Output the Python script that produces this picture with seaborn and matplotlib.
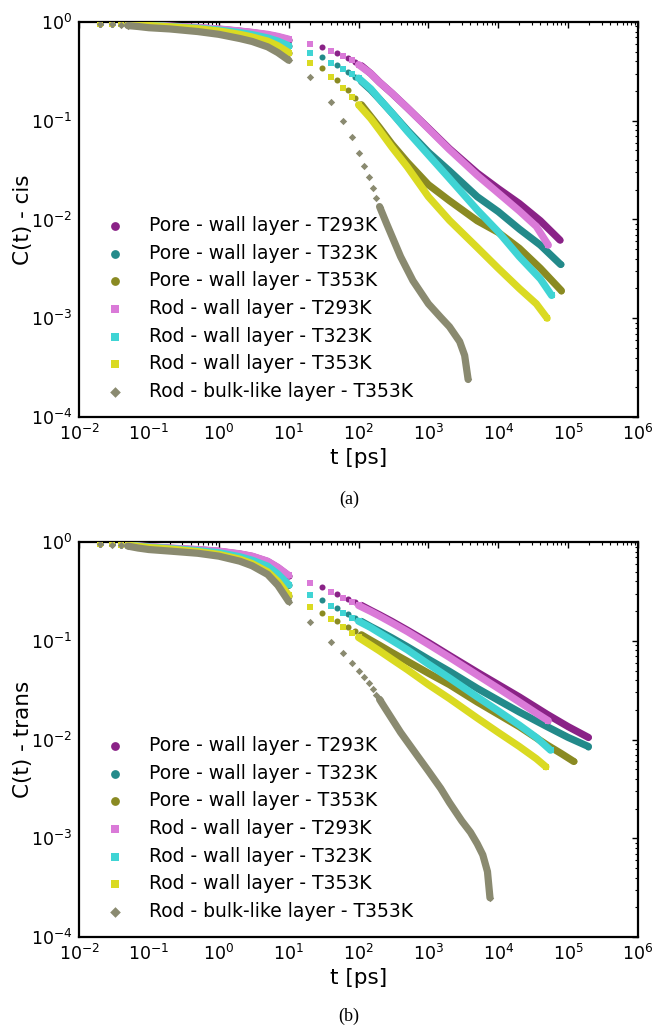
import numpy as np
import pandas as pd
import matplotlib
matplotlib.use("Agg")
import matplotlib.pyplot as plt
from matplotlib.ticker import LogLocator, NullFormatter, FixedLocator, LogFormatterSciNotation
import seaborn as sns

# ---------------------------------------------------------------- series
labels = [
    "Pore - wall layer - T293K",
    "Pore - wall layer - T323K",
    "Pore - wall layer - T353K",
    "Rod - wall layer - T293K",
    "Rod - wall layer - T323K",
    "Rod - wall layer - T353K",
    "Rod - bulk-like layer - T353K",
]
colors = ["#8a2287", "#238a8a", "#8a8a22", "#da7ad8", "#3fd4d4", "#dada22", "#8a8a70"]
markers = ["o", "o", "o", "s", "s", "s", "D"]

# short-time block (0.02 - 10 ps), shared time grid
t_early = [0.02, 0.03, 0.04, 0.05, 0.07, 0.1, 0.2, 0.5, 1, 2, 3, 5, 7, 10]

# decades that carry tick labels
x_decades = [-2, -1, 0, 1, 2, 3, 4, 5, 6]
y_decades = [-4, -3, -2, -1, 0]

# ---------------------------------------------------------------- cis
cis_early_pore293 = [0.965, 0.955, 0.95, 0.945, 0.935, 0.925, 0.905, 0.875, 0.845, 0.805, 0.78, 0.74, 0.705, 0.66]
cis_early_pore323 = [0.962, 0.952, 0.946, 0.94, 0.93, 0.92, 0.895, 0.86, 0.825, 0.775, 0.74, 0.685, 0.635, 0.57]
cis_early_pore353 = [0.96, 0.95, 0.943, 0.937, 0.926, 0.915, 0.89, 0.85, 0.805, 0.745, 0.70, 0.635, 0.57, 0.485]
cis_early_rod293 = [0.97, 0.96, 0.955, 0.95, 0.94, 0.93, 0.91, 0.88, 0.85, 0.81, 0.785, 0.75, 0.715, 0.67]
cis_early_rod323 = [0.967, 0.957, 0.951, 0.945, 0.935, 0.925, 0.90, 0.865, 0.83, 0.78, 0.745, 0.69, 0.64, 0.575]
cis_early_rod353 = [0.965, 0.955, 0.948, 0.942, 0.931, 0.92, 0.895, 0.855, 0.81, 0.75, 0.705, 0.64, 0.575, 0.49]
cis_early_bulk353 = [0.96, 0.945, 0.93, 0.92, 0.90, 0.875, 0.85, 0.80, 0.75, 0.68, 0.635, 0.56, 0.49, 0.41]

cis_t_pore293 = [30, 50, 70, 90, 110, 150, 200, 300, 500, 1e3, 2e3, 5e3, 1e4, 2e4, 4e4, 7.6e4]
cis_c_pore293 = [0.562, 0.49, 0.435, 0.395, 0.36, 0.30, 0.245, 0.19, 0.135, 0.084, 0.052, 0.0295, 0.0205, 0.0145, 0.0097, 0.0062]
cis_t_pore323 = [30, 50, 70, 90, 110, 150, 200, 300, 500, 1e3, 2e3, 5e3, 1e4, 2e4, 4e4, 7.8e4]
cis_c_pore323 = [0.446, 0.367, 0.315, 0.28, 0.25, 0.205, 0.165, 0.12, 0.08, 0.048, 0.031, 0.017, 0.012, 0.008, 0.0055, 0.0035]
cis_t_pore353 = [30, 50, 70, 90, 110, 150, 200, 300, 500, 1e3, 2e3, 5e3, 1e4, 2e4, 4e4, 8e4]
cis_c_pore353 = [0.34, 0.259, 0.205, 0.17, 0.145, 0.11, 0.085, 0.058, 0.038, 0.0225, 0.0155, 0.0097, 0.0074, 0.0051, 0.0032, 0.0019]
cis_t_rod293 = [20, 40, 60, 80, 100, 150, 200, 300, 500, 1e3, 2e3, 5e3, 1e4, 2e4, 3.5e4, 5.2e4]
cis_c_rod293 = [0.594, 0.508, 0.456, 0.41, 0.37, 0.30, 0.245, 0.19, 0.135, 0.083, 0.051, 0.028, 0.0185, 0.0122, 0.0085, 0.0055]
cis_t_rod323 = [20, 40, 60, 80, 100, 150, 200, 300, 500, 1e3, 2e3, 5e3, 1e4, 2e4, 4e4, 5.8e4]
cis_c_rod323 = [0.489, 0.387, 0.332, 0.30, 0.27, 0.21, 0.165, 0.12, 0.078, 0.045, 0.026, 0.0125, 0.0075, 0.0042, 0.0025, 0.0017]
cis_t_rod353 = [20, 40, 60, 80, 100, 150, 200, 300, 500, 1e3, 2e3, 5e3, 1e4, 2e4, 3.5e4, 5e4]
cis_c_rod353 = [0.387, 0.279, 0.213, 0.175, 0.145, 0.105, 0.08, 0.054, 0.034, 0.017, 0.0098, 0.0052, 0.0032, 0.002, 0.0014, 0.001]
cis_t_bulk353 = [20, 40, 60, 80, 100, 120, 140, 160, 180, 200, 250, 400, 600, 1000, 1500, 2000, 2800, 3300, 3700]
cis_c_bulk353 = [0.275, 0.156, 0.100, 0.068, 0.0475, 0.035, 0.0267, 0.0207, 0.0164, 0.0135, 0.0092, 0.0042,
                 0.0024, 0.0014, 0.00102, 0.00082, 0.00058, 0.00042, 0.00024]

# ---------------------------------------------------------------- trans
trans_early_pore293 = [0.96, 0.95, 0.94, 0.93, 0.91, 0.895, 0.865, 0.835, 0.805, 0.755, 0.715, 0.635, 0.55, 0.455]
trans_early_pore323 = [0.958, 0.947, 0.937, 0.927, 0.905, 0.885, 0.855, 0.815, 0.775, 0.705, 0.65, 0.565, 0.47, 0.365]
trans_early_pore353 = [0.955, 0.945, 0.934, 0.924, 0.90, 0.875, 0.845, 0.795, 0.745, 0.665, 0.60, 0.495, 0.395, 0.285]
trans_early_rod293 = [0.965, 0.955, 0.945, 0.935, 0.915, 0.90, 0.87, 0.84, 0.81, 0.76, 0.72, 0.64, 0.555, 0.46]
trans_early_rod323 = [0.963, 0.952, 0.942, 0.932, 0.91, 0.89, 0.86, 0.82, 0.78, 0.71, 0.655, 0.57, 0.475, 0.37]
trans_early_rod353 = [0.96, 0.95, 0.939, 0.929, 0.905, 0.88, 0.85, 0.80, 0.75, 0.67, 0.605, 0.50, 0.40, 0.29]
trans_early_bulk353 = [0.955, 0.94, 0.925, 0.91, 0.87, 0.84, 0.81, 0.77, 0.72, 0.64, 0.575, 0.47, 0.365, 0.25]

trans_t_pore293 = [30, 50, 70, 90, 110, 150, 200, 300, 500, 1e3, 2e3, 5e3, 1e4, 2e4, 5e4, 1e5, 1.95e5]
trans_c_pore293 = [0.348, 0.30, 0.268, 0.245, 0.228, 0.203, 0.183, 0.157, 0.128, 0.096, 0.071, 0.048, 0.036, 0.027, 0.018, 0.0135, 0.0105]
trans_t_pore323 = [30, 50, 70, 90, 110, 150, 200, 300, 500, 1e3, 2e3, 5e3, 1e4, 2e4, 5e4, 1e5, 1.95e5]
trans_c_pore323 = [0.259, 0.213, 0.188, 0.17, 0.157, 0.139, 0.125, 0.107, 0.087, 0.065, 0.049, 0.033, 0.025, 0.019, 0.0135, 0.0105, 0.0085]
trans_t_pore353 = [30, 50, 70, 90, 110, 150, 200, 300, 500, 1e3, 2e3, 5e3, 1e4, 2e4, 5e4, 8e4, 1.2e5]
trans_c_pore353 = [0.192, 0.158, 0.138, 0.125, 0.115, 0.101, 0.09, 0.076, 0.062, 0.047, 0.036, 0.024, 0.018, 0.0135, 0.0088, 0.0072, 0.006]
trans_t_rod293 = [20, 40, 60, 80, 100, 150, 200, 300, 500, 1e3, 2e3, 5e3, 1e4, 2e4, 3.5e4, 5.2e4]
trans_c_rod293 = [0.387, 0.31, 0.27, 0.245, 0.228, 0.198, 0.178, 0.152, 0.124, 0.092, 0.068, 0.045, 0.033, 0.024, 0.0185, 0.0155]
trans_t_rod323 = [20, 40, 60, 80, 100, 150, 200, 300, 500, 1e3, 2e3, 5e3, 1e4, 2e4, 3.5e4, 5.6e4]
trans_c_rod323 = [0.29, 0.225, 0.192, 0.172, 0.158, 0.136, 0.12, 0.101, 0.081, 0.058, 0.042, 0.027, 0.0195, 0.014, 0.0105, 0.0078]
trans_t_rod353 = [20, 40, 60, 80, 100, 150, 200, 300, 500, 1e3, 2e3, 5e3, 1e4, 2e4, 3.5e4, 4.8e4]
trans_c_rod353 = [0.221, 0.166, 0.137, 0.12, 0.108, 0.09, 0.079, 0.065, 0.051, 0.036, 0.026, 0.0165, 0.0118, 0.0085, 0.0064, 0.0053]
trans_t_bulk353 = [20, 40, 60, 80, 100, 120, 140, 160, 180, 200, 226, 400, 700, 1000, 1500, 2000, 3000, 4000,
                   5000, 6000, 7000, 7600]
trans_c_bulk353 = [0.156, 0.098, 0.0746, 0.059, 0.0497, 0.0432, 0.037, 0.0325, 0.0285, 0.0255, 0.0222, 0.0118,
                   0.0068, 0.0048, 0.0032, 0.0023, 0.0015, 0.00115, 8.8e-4, 6.8e-4, 4.6e-4, 2.5e-4]

cis_early = [cis_early_pore293, cis_early_pore323, cis_early_pore353,
             cis_early_rod293, cis_early_rod323, cis_early_rod353, cis_early_bulk353]
cis_late = [(cis_t_pore293, cis_c_pore293), (cis_t_pore323, cis_c_pore323), (cis_t_pore353, cis_c_pore353),
            (cis_t_rod293, cis_c_rod293), (cis_t_rod323, cis_c_rod323), (cis_t_rod353, cis_c_rod353),
            (cis_t_bulk353, cis_c_bulk353)]
trans_early = [trans_early_pore293, trans_early_pore323, trans_early_pore353,
               trans_early_rod293, trans_early_rod323, trans_early_rod353, trans_early_bulk353]
trans_late = [(trans_t_pore293, trans_c_pore293), (trans_t_pore323, trans_c_pore323),
              (trans_t_pore353, trans_c_pore353), (trans_t_rod293, trans_c_rod293),
              (trans_t_rod323, trans_c_rod323), (trans_t_rod353, trans_c_rod353),
              (trans_t_bulk353, trans_c_bulk353)]

# ---------------------------------------------------------------- style
sns.set_theme(style="white")
plt.rcParams["font.family"] = ["DejaVu Sans"]
plt.rcParams["mathtext.fontset"] = "dejavusans"
plt.rcParams["text.color"] = "black"
plt.rcParams["axes.labelcolor"] = "black"
plt.rcParams["xtick.color"] = "black"
plt.rcParams["ytick.color"] = "black"

marker_size = {"o": 19, "s": 18, "D": 14}
band_width = 5.2          # stroke width of densely sampled stretches (pt)
early_dense_from = 0.05   # markers merge into a band beyond this time
late_dense_from = [100, 100, 100, 100, 100, 100, 200]


def draw_panel(ax, early, late, ylabel):
    ax.set_xscale("log")
    ax.set_yscale("log")
    for i, lab in enumerate(labels):
        z = 3 + i
        e = pd.DataFrame({"t": t_early, "C": early[i]})
        l = pd.DataFrame({"t": late[i][0], "C": late[i][1]})
        for part, start in ((e, early_dense_from), (l, late_dense_from[i])):
            seg = part[part["t"] >= start]
            sns.lineplot(data=seg, x="t", y="C", ax=ax, color=colors[i], linewidth=band_width,
                         estimator=None, sort=False, legend=False, zorder=z,
                         solid_capstyle="round", solid_joinstyle="round")
        pts = pd.concat([e[e["t"] <= early_dense_from], e.tail(1),
                         l[l["t"] <= late_dense_from[i]], l.tail(1)])
        sns.scatterplot(data=pts, x="t", y="C", ax=ax, color=colors[i], marker=markers[i],
                        s=marker_size[markers[i]], linewidth=0, label=lab, zorder=z + 0.5)

    ax.set_xlim(1e-2, 1e6)
    ax.set_ylim(1e-4, 1)
    ax.xaxis.set_major_locator(FixedLocator([10.0 ** d for d in x_decades]))
    ax.xaxis.set_major_formatter(LogFormatterSciNotation())
    ax.xaxis.set_minor_locator(LogLocator(base=10, subs=np.arange(2, 10), numticks=20))
    ax.xaxis.set_minor_formatter(NullFormatter())
    ax.yaxis.set_major_locator(FixedLocator([10.0 ** d for d in y_decades]))
    ax.yaxis.set_major_formatter(LogFormatterSciNotation())
    ax.yaxis.set_minor_locator(LogLocator(base=10, subs=np.arange(2, 10), numticks=20))
    ax.yaxis.set_minor_formatter(NullFormatter())
    ax.tick_params(which="both", direction="in", top=True, right=True, colors="black")
    ax.tick_params(which="major", length=4.5, width=1.0, labelsize=12.5, pad=5)
    ax.tick_params(which="minor", length=2.5, width=0.8)
    for sp in ax.spines.values():
        sp.set_linewidth(1.6)
        sp.set_color("black")
    ax.set_xlabel("t [ps]", fontsize=15.5, labelpad=3)
    ax.set_ylabel(ylabel, fontsize=15.5, labelpad=-2)
    ax.legend(loc="lower left", bbox_to_anchor=(0.034, 0.022), frameon=False, fontsize=13.5,
              markerscale=1.45, handlelength=1.0, handletextpad=1.3, labelspacing=0.46,
              borderpad=0.4, borderaxespad=0, labelcolor="black")


fig = plt.figure(figsize=(6.52, 10.27), dpi=100)
ax_a = fig.add_axes([0.1212, 0.594, 0.8574, 0.3846])
ax_b = fig.add_axes([0.1212, 0.0876, 0.8574, 0.3846])
draw_panel(ax_a, cis_early, cis_late, "C(t) - cis")
draw_panel(ax_b, trans_early, trans_late, "C(t) - trans")

fig.text(0.5353, 0.5141, "(a)", family="Liberation Serif", fontsize=13, ha="center", va="center")
fig.text(0.5353, 0.0100, "(b)", family="Liberation Serif", fontsize=13, ha="center", va="center")

fig.savefig("out.png", dpi=100, facecolor="white")
